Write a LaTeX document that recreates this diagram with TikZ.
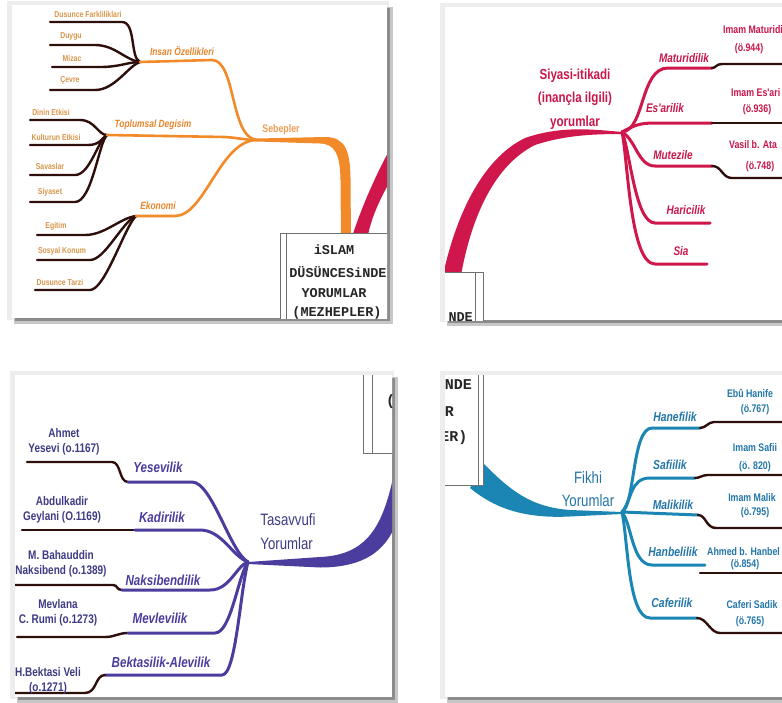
\documentclass[tikz,border=0pt]{standalone}
\usepackage{fontspec}
\setmainfont{Liberation Sans}
\newfontfamily\nar[FakeStretch=0.8]{Liberation Sans}
\newfontfamily\monof{Liberation Mono}
\definecolor{orc}{HTML}{F28A2A}
\definecolor{ortx}{HTML}{E8862C}
\definecolor{orleaf}{HTML}{D9964A}
\definecolor{crc}{HTML}{D0174C}
\definecolor{crtx}{HTML}{C8174A}
\definecolor{puc}{HTML}{4A3D9E}
\definecolor{putx}{HTML}{3F3B85}
\definecolor{tec}{HTML}{1B86B3}
\definecolor{tetx}{HTML}{2276A8}
\definecolor{dk}{HTML}{2E0F0C}
\definecolor{boxc}{HTML}{707070}
\newcommand{\panelbg}[4]{%
  \fill[black!7] (#1-5,#2-4) rectangle (#3+2,#4+2);
  \fill[black!22] (#1+2,#2+2) rectangle (#3+6,#4+6);
  \fill[black!45] (#1+3,#2+3) rectangle (#3+3,#4+3);
  \fill[white] (#1,#2) rectangle (#3,#4);}
\tikzset{
  lf/.style={draw=dk, line width=2.4pt, line cap=round},
  obr/.style={draw=orc, line width=2.6pt, line cap=round},
  cbr/.style={draw=crc, line width=3pt, line cap=round},
  pbr/.style={draw=puc, line width=3pt, line cap=round},
  tbr/.style={draw=tec, line width=3pt, line cap=round},
  olf/.style={inner sep=0pt, text=orleaf, font=\nar\bfseries\fontsize{8.6}{9}\selectfont},
  obt/.style={inner sep=0pt, text=ortx, font=\nar\bfseries\itshape\fontsize{10.5}{12}\selectfont},
  osb/.style={inner sep=0pt, text=ortx!80, font=\nar\bfseries\fontsize{11}{12}\selectfont},
  ctitle/.style={inner sep=0pt, align=center, text=crtx, font=\nar\bfseries\fontsize{14.5}{23.5}\selectfont},
  cbt/.style={inner sep=0pt, text=crtx, font=\nar\bfseries\itshape\fontsize{12.5}{14}\selectfont},
  clf/.style={inner sep=0pt, text=crtx, font=\nar\bfseries\fontsize{11}{12}\selectfont},
  ptitle/.style={inner sep=0pt, align=left, text=putx, font=\nar\fontsize{16.5}{24}\selectfont},
  pbt/.style={inner sep=0pt, text=puc, font=\nar\bfseries\itshape\fontsize{14.5}{16}\selectfont},
  plf/.style={inner sep=0pt, align=center, text=putx, font=\nar\bfseries\fontsize{12.5}{15.5}\selectfont},
  ttitle/.style={inner sep=0pt, align=center, text=tetx, font=\nar\fontsize{16.5}{23}\selectfont},
  tbt/.style={inner sep=0pt, text=tetx, font=\nar\bfseries\itshape\fontsize{13}{14}\selectfont},
  tlf/.style={inner sep=0pt, text=tetx, font=\nar\bfseries\fontsize{11}{12}\selectfont},
  boxtxt/.style={inner sep=0pt, text=black!85, font=\monof\bfseries\fontsize{13.5}{14}\selectfont},
  boxtxtb/.style={inner sep=0pt, text=black!85, font=\monof\bfseries\fontsize{15}{16}\selectfont},
  boxline/.style={draw=boxc, line width=0.9pt},
}
\begin{document}
\begin{tikzpicture}[x=1pt,y=-1pt]
\useasboundingbox (0,0) rectangle (782,702);
\fill[white] (0,0) rectangle (782,702);
\panelbg{12}{5}{387}{318}
\panelbg{445}{7}{795}{320}
\panelbg{15}{375}{392}{697}
\panelbg{445}{375}{795}{697}

%================ TOP LEFT (orange) =================
\begin{scope}
\clip (12,5) rectangle (387,318);
\coordinate (io) at (140,62);
\coordinate (sb) at (257,140);
\coordinate (td) at (107,135);
\coordinate (ek) at (136,216);
% crimson band at right
\fill[crc] (351,240) .. controls (362,205) and (378,170) .. (395,140) -- (402,160) .. controls (388,185) and (372,210) .. (367,240) -- cycle;
% thick orange to box
\fill[orc] (sb) ++(0,-1.5) -- (325,137) .. controls (346,137) and (350,152) .. (350.5,178) -- (351,240) -- (341,240) -- (340.5,180) .. controls (340,154) and (335,144) .. (320,143.5) -- (257,141.5) -- cycle;
% Insan Ozellikleri
\draw[lf] (50,22) coordinate (o1) -- (122,22) .. controls (136,22) and (130,58) .. (io);
\draw[lf] (50,45) coordinate (o2) -- (95,45) .. controls (115,45) and (125,60) .. (io);
\draw[lf] (52,67) coordinate (o3) -- (100,67) .. controls (120,67) and (128,62) .. (io);
\draw[lf] (50,90) coordinate (o4) -- (95,90) .. controls (115,90) and (128,66) .. (io);
\draw[obr] (io) -- (212,60) .. controls (236,60) and (230,138) .. (sb);
\node[olf] (t1) at (88,14.5) {Dusunce Farkliliklari};
\node[olf] (t2) at (71,36.5) {Duygu};
\node[olf] (t3) at (72,58.5) {Mizac};
\node[olf] (t4) at (70,80.5) {Çevre};
\node[obt] (ioL) at (182,51) {Insan Özellikleri};
% Toplumsal Degisim
\draw[lf] (30,120) coordinate (d1) -- (80,120) .. controls (95,120) and (98,135) .. (td);
\draw[lf] (30,145) coordinate (d2) -- (88,145) .. controls (100,145) and (102,138) .. (td);
\draw[lf] (30,175) coordinate (d3) -- (75,175) .. controls (90,175) and (98,140) .. (td);
\draw[lf] (30,202) coordinate (d4) -- (75,202) .. controls (92,202) and (99,142) .. (td);
\draw[obr] (td) -- (225,137) .. controls (240,138) and (245,140) .. (sb);
\node[olf] (t5) at (51,112.5) {Dinin Etkisi};
\node[olf] (t6) at (56,137.5) {Kulturun Etkisi};
\node[olf] (t7) at (50,166.5) {Savaslar};
\node[olf] (t8) at (50,192.5) {Siyaset};
\node[obt] (tdL) at (153,125) {Toplumsal Degisim};
% Ekonomi
\draw[lf] (37,235) coordinate (e1) -- (85,235) .. controls (105,235) and (120,218) .. (ek);
\draw[lf] (37,260) coordinate (e2) -- (90,260) .. controls (105,260) and (122,222) .. (ek);
\draw[lf] (35,290) coordinate (e3) -- (90,290) .. controls (105,290) and (125,226) .. (ek);
\draw[obr] (ek) -- (175,216) .. controls (205,216) and (220,140) .. (sb);
\node[olf] (t9) at (56,226.5) {Egitim};
\node[olf] (t10) at (62,251.5) {Sosyal Konum};
\node[olf] (t11) at (60,282.5) {Dusunce Tarzi};
\node[obt] (ekL) at (158,206) {Ekonomi};
\node[osb] (sbL) at (281,130) {Sebepler};
% central box
\draw[boxline, fill=white] (280,233) rectangle (400,335);
\draw[boxline] (286,233) -- (286,335);
\node[boxtxt] (bA) at (334,250) {iSLAM};
\node[boxtxt] (bB) at (338,272) {DÜSÜNCESiNDE};
\node[boxtxt] (bC) at (334,293) {YORUMLAR};
\node[boxtxt] (bD) at (337,313) {(MEZHEPLER)};
\end{scope}

%================ TOP RIGHT (crimson) =================
\begin{scope}
\clip (445,7) rectangle (782,320);
\coordinate (ch) at (622,132);
\fill[crc] (443,275) .. controls (455,220) and (480,160) .. (525,138) .. controls (560,126) and (590,129) .. (ch) -- (622,134) .. controls (595,134) and (565,135) .. (535,145) .. controls (495,165) and (472,215) .. (461,275) -- cycle;
\draw[boxline, fill=white] (420,272) rectangle (483,340);
\draw[boxline] (475,272) -- (475,340);
\node[boxtxt, anchor=east] (bE) at (473,317) {NDE};
\node[ctitle] (ctL) at (575,99) {Siyasi-itikadi\\(inançla ilgili)\\yorumlar};
% branches
\draw[cbr] (ch) .. controls (645,130) and (640,68) .. (668,68) -- (712,68) coordinate (m1);
\draw[lf] (m1) .. controls (716,68) and (716,64) .. (722,64) -- (790,64);
\draw[cbr] (ch) .. controls (635,125) and (640,123) .. (655,123) -- (712,123) coordinate (m2);
\draw[lf] (m2) -- (790,123);
\draw[cbr] (ch) .. controls (636,140) and (638,166) .. (655,166) -- (712,166) coordinate (m3);
\draw[lf] (m3) .. controls (722,166) and (722,178) .. (732,178) -- (790,178);
\draw[cbr] (ch) .. controls (630,150) and (635,223) .. (655,223) -- (710,223) coordinate (m4);
\draw[cbr] (ch) .. controls (628,160) and (630,264) .. (655,264) -- (707,264) coordinate (m5);
\node[cbt] (c1) at (684,58) {Maturidilik};
\node[cbt] (c2) at (665,108) {Es'arilik};
\node[cbt] (c3) at (673,155) {Mutezile};
\node[cbt] (c4) at (686,210) {Haricilik};
\node[cbt] (c5) at (681,251) {Sia};
\node[clf, anchor=west] (c6) at (723,30) {Imam Maturidi};
\node[clf] (c7) at (749,49) {(ö.944)};
\node[clf, anchor=west] (c8) at (731,93) {Imam Es'ari};
\node[clf] (c9) at (757,110) {(ö.936)};
\node[clf, anchor=west] (c10) at (729,145) {Vasil b. Ata};
\node[clf] (c11) at (760,167) {(ö.748)};
\end{scope}

%================ BOTTOM LEFT (purple) =================
\begin{scope}
\clip (15,375) rectangle (392,697);
\coordinate (ph) at (248,562);
\draw[boxline, fill=white] (363,360) rectangle (420,453);
\draw[boxline] (372,360) -- (372,453);
\node[boxtxtb, anchor=west] (bF) at (386,402) {(};
\fill[puc] (393,478) .. controls (382,528) and (366,555) .. (320,557) -- (ph) -- (248,564) -- (320,567.5) .. controls (376,567.5) and (392,540) .. (400,512) -- cycle;
\node[ptitle] (ptL) at (288,532) {Tasavvufi\\Yorumlar};
% Yesevilik
\draw[lf] (27,462) coordinate (y1) -- (112,462) .. controls (121,462) and (119,482) .. (128,482) coordinate (y2);
\draw[pbr] (y2) -- (192,482) .. controls (212,482) and (230,552) .. (ph);
% Kadirilik
\draw[lf] (22,530) coordinate (k1) -- (135,530) coordinate (k2);
\draw[pbr] (k2) -- (200,530) .. controls (222,530) and (232,556) .. (ph);
% Naksibendilik
\draw[lf] (15,585) coordinate (n1) -- (113,585) .. controls (118,585) and (116,590) .. (122,590) coordinate (n2);
\draw[pbr] (n2) -- (210,590) .. controls (230,590) and (236,566) .. (ph);
% Mevlevilik
\draw[lf] (17,637) coordinate (v1) -- (105,637) .. controls (115,637) and (118,633) .. (128,633) coordinate (v2);
\draw[pbr] (v2) -- (215,633) .. controls (231,633) and (238,576) .. (ph);
% Bektasilik
\draw[pbr] (105,675) coordinate (b2) -- (222,675) .. controls (236,675) and (240,592) .. (ph);
\draw[lf] (b2) .. controls (95,675) and (97,693) .. (85,693) -- (10,693) coordinate (b1);
\node[pbt] (p1) at (158,467) {Yesevilik};
\node[pbt] (p2) at (162,517) {Kadirilik};
\node[pbt] (p3) at (163,580) {Naksibendilik};
\node[pbt] (p4) at (160,618) {Mevlevilik};
\node[pbt] (p5) at (161,662) {Bektasilik-Alevilik};
\node[plf] (p6) at (64,442) {Ahmet\\Yesevi (o.1167)};
\node[plf] (p7) at (62,510) {Abdulkadir\\Geylani (O.1169)};
\node[plf] (p8) at (61,564) {M. Bahauddin\\Naksibend (o.1389)};
\node[plf] (p9) at (58,613) {Mevlana\\C. Rumi (o.1273)};
\node[plf] (p10) at (48,681) {H.Bektasi Veli\\(o.1271)};
\end{scope}

%================ BOTTOM RIGHT (teal) =================
\begin{scope}
\clip (445,375) rectangle (782,697);
\coordinate (fh) at (622,512);
\fill[tec] (484,464) .. controls (510,490) and (530,507) .. (570,510) -- (fh) -- (622,514) -- (570,516.5) .. controls (520,519) and (492,506) .. (470,488) -- cycle;
\draw[boxline, fill=white] (420,350) rectangle (483,485);
\draw[boxline] (478,350) -- (478,485);
\node[boxtxtb, anchor=east] (bG) at (472,385) {NDE};
\node[boxtxtb, anchor=east] (bH) at (454,412) {R};
\node[boxtxtb, anchor=east] (bI) at (467.5,438) {ER)};
\node[ttitle] (ftL) at (588,489) {Fikhi\\Yorumlar};
% branches
\draw[tbr] (fh) .. controls (635,505) and (632,428) .. (652,428) -- (700,428) coordinate (h1);
\draw[lf] (h1) .. controls (706,428) and (708,422) .. (714,422) -- (790,422);
\draw[tbr] (fh) .. controls (632,500) and (630,478) .. (650,478) -- (695,478) coordinate (s1);
\draw[lf] (s1) .. controls (700,478) and (702,475) .. (708,475) -- (790,475);
\draw[tbr] (fh) -- (698,515) coordinate (ml1);
\draw[lf] (ml1) .. controls (706,515) and (706,528) .. (716,528) -- (790,528);
\draw[tbr] (fh) .. controls (632,525) and (632,565) .. (652,565) -- (705,565) coordinate (hb1);
\draw[lf] (hb1) ++(-5,8) coordinate (hb2) -- (790,573);
\draw[tbr] (fh) .. controls (628,540) and (628,618) .. (650,618) -- (697,618) coordinate (cf1);
\draw[lf] (cf1) .. controls (707,618) and (710,633) .. (720,633) -- (790,633);
\node[tbt] (f1) at (675,417) {Hanefilik};
\node[tbt] (f2) at (670,465) {Safiilik};
\node[tbt] (f3) at (673,505) {Malikilik};
\node[tbt] (f4) at (673,552) {Hanbelilik};
\node[tbt] (f5) at (672,603) {Caferilik};
\node[tlf] (f6) at (750,393) {Ebû Hanife};
\node[tlf] (f7) at (755,410) {(ö.767)};
\node[tlf] (f8) at (755,448) {Imam Safii};
\node[tlf] (f9) at (755,467) {(ö. 820)};
\node[tlf] (f10) at (752,498) {Imam Malik};
\node[tlf] (f11) at (755,513) {(ö.795)};
\node[tlf, anchor=west] (f12) at (707,552) {Ahmed b. Hanbel};
\node[tlf] (f13) at (745,565) {(ö.854)};
\node[tlf] (f14) at (752,605) {Caferi Sadik};
\node[tlf] (f15) at (750,622) {(ö.765)};
\end{scope}
\end{tikzpicture}
\end{document}
